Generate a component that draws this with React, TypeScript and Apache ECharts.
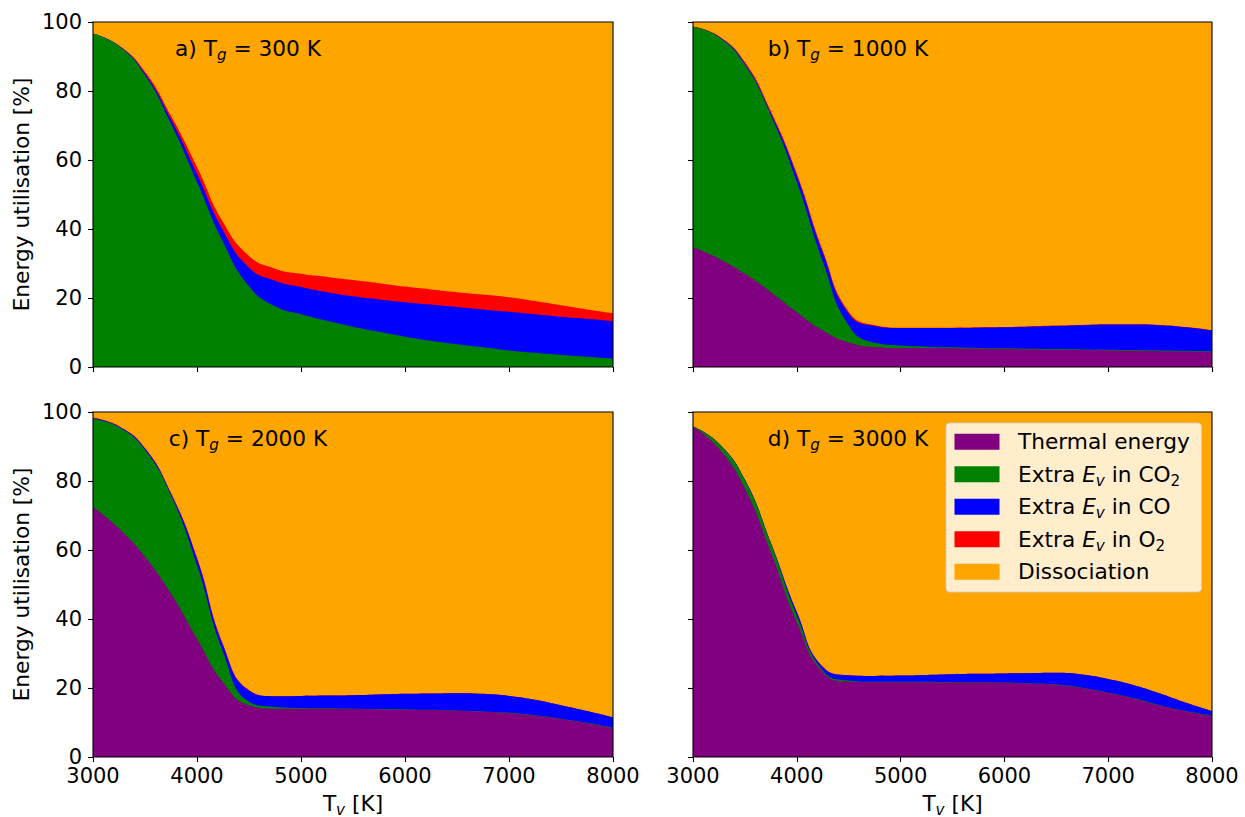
import React, { useEffect, useRef } from "react";
import * as echarts from "echarts";

// Vibrational temperature samples [K]
const tv = [3000, 3250, 3500, 3750, 4000, 4250, 4500, 4750, 5000, 5250, 5500, 5750, 6000, 6250, 6500, 6750, 7000, 7250, 7500, 7750, 8000];

// Cumulative tops [%] of each stacked band (thermal, +CO2, +CO, +O2); dissociation fills to 100
const totalPct = [100, 100, 100, 100, 100, 100, 100, 100, 100, 100, 100, 100, 100, 100, 100, 100, 100, 100, 100, 100, 100];

// a) Tg = 300 K
const aThermal = [0, 0, 0, 0, 0, 0, 0, 0, 0, 0, 0, 0, 0, 0, 0, 0, 0, 0, 0, 0, 0];
const aCO2Top = [96.6, 93.0, 84.6, 70.5, 53.6, 36.2, 23.4, 17.6, 15.3, 13.4, 11.7, 10.2, 8.8, 7.6, 6.6, 5.7, 4.8, 4.1, 3.5, 3.0, 2.5];
const aCOTop = [96.6, 93.1, 85.1, 71.8, 56.0, 39.6, 28.8, 25.0, 23.2, 21.7, 20.5, 19.6, 18.8, 18.1, 17.4, 16.7, 16.0, 15.3, 14.6, 14.0, 13.3];
const aO2Top = [96.7, 93.2, 85.6, 72.8, 58.0, 42.0, 32.2, 28.5, 27.0, 26.1, 25.2, 24.3, 23.3, 22.5, 21.7, 21.0, 20.2, 19.1, 17.9, 16.7, 15.6];

// b) Tg = 1000 K
const bThermal = [34.8, 31.4, 27.0, 21.7, 15.9, 10.6, 7.1, 5.8, 5.5, 5.5, 5.4, 5.3, 5.2, 5.1, 5.0, 4.9, 4.8, 4.7, 4.6, 4.5, 4.3];
const bCO2Top = [98.6, 95.6, 87.6, 73.0, 53.6, 30.5, 12.0, 7.0, 6.2, 5.9, 5.7, 5.5, 5.4, 5.3, 5.2, 5.1, 5.0, 4.9, 4.8, 4.7, 4.5];
const bCOTop = [98.6, 95.7, 88.0, 73.6, 55.5, 33.2, 15.5, 11.9, 11.3, 11.3, 11.3, 11.4, 11.5, 11.7, 11.9, 12.1, 12.3, 12.3, 12.1, 11.5, 10.6];
const bO2Top = [98.7, 95.9, 88.4, 74.1, 56.1, 33.8, 16.0, 12.1, 11.4, 11.4, 11.4, 11.5, 11.6, 11.8, 12.0, 12.2, 12.4, 12.4, 12.2, 11.6, 10.7];

// c) Tg = 2000 K
const cThermal = [72.5, 66.2, 58.0, 47.3, 34.3, 21.7, 15.0, 14.0, 14.0, 14.0, 13.9, 13.8, 13.7, 13.6, 13.4, 13.1, 12.7, 12.0, 11.0, 9.8, 8.4];
const cCO2Top = [98.0, 95.6, 89.0, 75.8, 55.6, 30.4, 16.0, 14.5, 14.2, 14.1, 14.0, 13.9, 13.8, 13.7, 13.5, 13.2, 12.8, 12.1, 11.1, 9.9, 8.5];
const cCOTop = [98.2, 95.8, 89.4, 76.3, 57.5, 32.4, 19.3, 17.6, 17.7, 17.8, 17.9, 18.1, 18.3, 18.4, 18.5, 18.3, 17.7, 16.6, 15.0, 13.3, 11.5];
const cO2Top = [98.3, 95.9, 89.6, 76.6, 57.8, 32.7, 19.4, 17.6, 17.7, 17.8, 17.9, 18.1, 18.3, 18.4, 18.5, 18.3, 17.7, 16.6, 15.0, 13.3, 11.5];

// d) Tg = 3000 K
const dThermal = [95.7, 89.4, 77.8, 59.4, 39.1, 24.6, 21.9, 21.7, 21.7, 21.7, 21.6, 21.6, 21.5, 21.3, 20.9, 20.0, 18.6, 16.9, 14.9, 13.2, 11.9];
const dCO2Top = [95.8, 90.8, 80.2, 61.8, 41.0, 25.1, 22.2, 21.8, 21.8, 21.8, 21.7, 21.7, 21.6, 21.4, 21.0, 20.1, 18.7, 17.0, 15.0, 13.3, 12.0];
const dCOTop = [95.8, 90.9, 80.4, 62.1, 42.0, 26.1, 23.7, 23.5, 23.6, 23.8, 24.0, 24.1, 24.2, 24.3, 24.4, 23.9, 22.6, 20.8, 18.4, 15.7, 13.3];
const dO2Top = [95.8, 90.9, 80.4, 62.1, 42.1, 26.2, 23.7, 23.5, 23.6, 23.8, 24.0, 24.1, 24.2, 24.3, 24.4, 23.9, 22.6, 20.8, 18.4, 15.7, 13.3];

const panelTitles = ["a)", "b)", "c)", "d)"];
const gasTemps = ["300", "1000", "2000", "3000"];

const legendNames = ["Thermal energy", "Extra Ev in CO2", "Extra Ev in CO", "Extra Ev in O2", "Dissociation"];
const legendRich = [
  "{n|Thermal energy}",
  "{n|Extra }{it|E}{si|v}{n| in CO}{s|2}",
  "{n|Extra }{it|E}{si|v}{n| in CO}",
  "{n|Extra }{it|E}{si|v}{n| in O}{s|2}",
  "{n|Dissociation}",
];
const colors = ["#800080", "#008000", "#0000ff", "#ff0000", "#ffa500"];

const FONT = "DejaVu Sans";
const FS = 21.7;
const FS_TICK = 21;
const FS_SUB = 15.2;

const rich = {
  n: { fontSize: FS, fontFamily: FONT, fill: "#000", color: "#000", lineHeight: 28, verticalAlign: "middle" },
  it: { fontSize: FS, fontFamily: FONT, fontStyle: "italic", fill: "#000", color: "#000", lineHeight: 28, verticalAlign: "middle" },
  si: { fontSize: FS_SUB, fontFamily: FONT, fontStyle: "italic", fill: "#000", color: "#000", lineHeight: 12.5, verticalAlign: "bottom" },
  s: { fontSize: FS_SUB, fontFamily: FONT, fill: "#000", color: "#000", lineHeight: 12.5, verticalAlign: "bottom" },
};

const panels = [
  { left: 93, top: 22, w: 520, h: 345, showX: false, showY: true, thermal: aThermal, co2: aCO2Top, co: aCOTop, o2: aO2Top },
  { left: 693, top: 22, w: 519, h: 345, showX: false, showY: false, thermal: bThermal, co2: bCO2Top, co: bCOTop, o2: bO2Top },
  { left: 93, top: 412, w: 520, h: 345, showX: true, showY: true, thermal: cThermal, co2: cCO2Top, co: cCOTop, o2: cO2Top },
  { left: 693, top: 412, w: 519, h: 345, showX: true, showY: false, thermal: dThermal, co2: dCO2Top, co: dCOTop, o2: dO2Top },
];

function buildOption() {
  const grid = panels.map((p) => ({ left: p.left, top: p.top, width: p.w, height: p.h, containLabel: false }));
  const xAxis = panels.map((p, i) => ({
    type: "value",
    gridIndex: i,
    min: 3000,
    max: 8000,
    interval: 1000,
    axisLine: { show: false },
    splitLine: { show: false },
    axisTick: { show: true, length: 5, lineStyle: { color: "#000", width: 1.1 } },
    axisLabel: {
      show: p.showX,
      color: "#000",
      fontSize: FS_TICK,
      fontFamily: FONT,
      lineHeight: 15,
      margin: 11,
      showMinLabel: true,
      showMaxLabel: true,
      formatter: (v: number) => String(v),
    },
  }));
  const yAxis = panels.map((p, i) => ({
    type: "value",
    gridIndex: i,
    min: 0,
    max: 100,
    interval: 20,
    axisLine: { show: false },
    splitLine: { show: false },
    axisTick: { show: true, length: 5, lineStyle: { color: "#000", width: 1.1 } },
    axisLabel: {
      show: p.showY,
      color: "#000",
      fontSize: FS_TICK,
      fontFamily: FONT,
      lineHeight: 15,
      margin: 11,
      showMinLabel: true,
      showMaxLabel: true,
      formatter: (v: number) => String(v),
    },
  }));

  const series: any[] = [];
  panels.forEach((p, i) => {
    const layers = [
      { name: legendNames[4], color: colors[4], arr: totalPct },
      { name: legendNames[3], color: colors[3], arr: p.o2 },
      { name: legendNames[2], color: colors[2], arr: p.co },
      { name: legendNames[1], color: colors[1], arr: p.co2 },
      { name: legendNames[0], color: colors[0], arr: p.thermal },
    ];
    layers.forEach((l) => {
      series.push({
        type: "line",
        name: l.name,
        xAxisIndex: i,
        yAxisIndex: i,
        data: tv.map((t, k) => [t, l.arr[k]]),
        symbol: "none",
        showSymbol: false,
        smooth: 0.5,
        silent: true,
        clip: true,
        lineStyle: { width: 0, opacity: 0 },
        areaStyle: { color: l.color, opacity: 1, origin: "start" },
      });
    });
  });

  const graphic: any[] = [];
  panels.forEach((p, i) => {
    graphic.push({
      type: "rect",
      z: 100,
      silent: true,
      shape: { x: p.left, y: p.top, width: p.w, height: p.h },
      style: { fill: "none", stroke: "#000", lineWidth: 1.1 },
    });
    graphic.push({
      type: "text",
      z: 101,
      silent: true,
      x: p.left + 155,
      y: p.top + 26.8,
      style: {
        text: `{n|${panelTitles[i]} T}{si|g}{n| = ${gasTemps[i]} K}`,
        rich,
        align: "center",
        verticalAlign: "middle",
      },
    });
    if (p.showX) {
      graphic.push({
        type: "text",
        z: 101,
        silent: true,
        x: p.left + p.w / 2,
        y: 803,
        style: { text: "{n|T}{si|v}{n| [K]}", rich, align: "center", verticalAlign: "middle" },
      });
    }
    if (p.showY) {
      graphic.push({
        type: "text",
        z: 101,
        silent: true,
        x: 21,
        y: p.top + p.h / 2,
        rotation: Math.PI / 2,
        style: {
          text: "Energy utilisation [%]",
          fontSize: FS,
          fontFamily: FONT,
          fill: "#000",
          align: "center",
          verticalAlign: "middle",
        },
      });
    }
  });

  // legend box (inside panel d)
  graphic.push({
    type: "rect",
    z: 110,
    silent: true,
    shape: { x: 946, y: 423, width: 255.5, height: 169, r: 4 },
    style: { fill: "rgba(255,255,255,0.8)", stroke: "rgba(204,204,204,0.8)", lineWidth: 1.1 },
  });
  const rowCenters = [441.7, 474.2, 506.7, 539.2, 571.7];
  legendRich.forEach((txt, k) => {
    graphic.push({
      type: "rect",
      z: 111,
      silent: true,
      shape: { x: 954.5, y: rowCenters[k] - 8, width: 45, height: 16 },
      style: { fill: colors[k] },
    });
    graphic.push({
      type: "text",
      z: 111,
      silent: true,
      x: 1018,
      y: rowCenters[k],
      style: { text: txt, rich, align: "left", verticalAlign: "middle" },
    });
  });

  return {
    animation: false,
    backgroundColor: "#ffffff",
    grid,
    xAxis,
    yAxis,
    series,
    graphic,
  };
}

export default function App() {
  const ref = useRef<HTMLDivElement>(null);
  useEffect(() => {
    if (!ref.current) return;
    const chart = echarts.init(ref.current, null, { renderer: "svg" });
    chart.setOption(buildOption() as any);
    return () => {
      chart.dispose();
    };
  }, []);
  return (
    <div
      ref={ref}
      style={{ position: "fixed", left: 0, top: 0, width: 1245, height: 817, background: "#fff" }}
    />
  );
}
